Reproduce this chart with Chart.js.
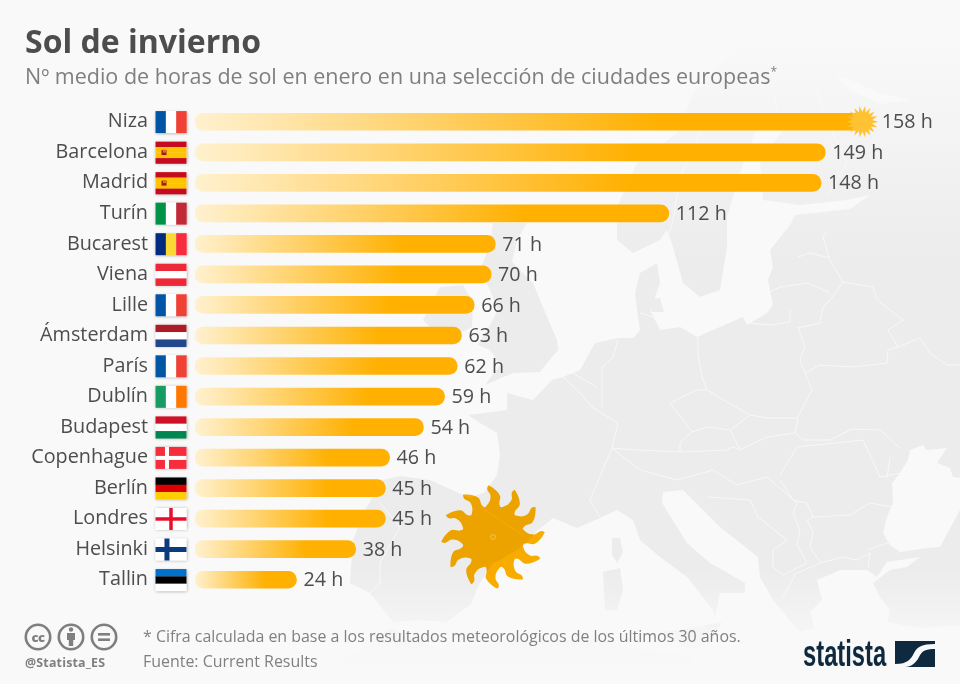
<!DOCTYPE html>
<html>
<head>
<meta charset="utf-8">
<script src="https://cdn.jsdelivr.net/npm/chart.js@4/dist/chart.umd.min.js"></script>
<style>
	html, body { margin:0; padding:0; background:#f9f9f9; }
	#wrap { position:relative; width:960px; height:684px; overflow:hidden; font-family:"Open Sans", sans-serif; }
	#bg, #fg, #soleChart { position:absolute; left:0; top:0; }
	.txt { position:absolute; white-space:nowrap; }
	#title { left:25px; top:19px; font-size:32px; line-height:44px; font-weight:700; color:#4d4d4d; }
	#subtitle { left:25px; top:61px; font-size:21.5px; line-height:30px; color:#7f7f7f; }
	#subtitle sup { font-size:12px; line-height:0; }
	#note { left:143px; top:625px; font-size:15.95px; line-height:22px; color:#808080; }
	#source { left:143px; top:650px; font-size:15.95px; line-height:22px; color:#808080; }
	#handle { left:25px; top:654px; font-size:12.4px; line-height:18px; font-weight:700; color:#7f7f7f; letter-spacing:.2px; }
	#logo { left:803px; top:632px; font-family:"Liberation Sans Narrow", "Liberation Sans", sans-serif; font-size:36px; line-height:44px; font-weight:700; color:#0f2a3f; transform:scaleX(.66); transform-origin:left top; }
</style>
</head>
<body>
<div id="wrap">
	<svg id="bg" width="960" height="684" viewBox="0 0 960 684"></svg>
	<canvas id="soleChart" width="960" height="684"></canvas>
	<svg id="fg" width="960" height="684" viewBox="0 0 960 684"></svg>
	<div class="txt" id="title">Sol de invierno</div>
	<div class="txt" id="subtitle">Nº medio de horas de sol en enero en una selección de ciudades europeas<sup>*</sup></div>
	<div class="txt" id="note">* Cifra calculada en base a los resultados meteorológicos de los últimos 30 años.</div>
	<div class="txt" id="source">Fuente: Current Results</div>
	<div class="txt" id="handle">@Statista_ES</div>
	<div class="txt" id="logo">statista</div>
</div>
<script>
var cities = ['Niza','Barcelona','Madrid','Turín','Bucarest','Viena','Lille','Ámsterdam','París','Dublín','Budapest','Copenhague','Berlín','Londres','Helsinki','Tallin'];
var sunHours = [158,149,148,112,71,70,66,63,62,59,54,46,45,45,38,24];
var cityFlags = ['fr','es','es','it','ro','at','fr','nl','fr','ie','hu','dk','de','en','fi','ee'];

var flagStripes = {
	fr: { dir:'v', colors:['#0055a4','#ffffff','#ef4135'] },
	it: { dir:'v', colors:['#009246','#ffffff','#c12b37'] },
	ro: { dir:'v', colors:['#002b7f','#fcd835','#f72c3c'] },
	ie: { dir:'v', colors:['#169b62','#ffffff','#ff7900'] },
	at: { dir:'h', colors:['#ed2939','#ffffff','#ed2939'] },
	nl: { dir:'h', colors:['#ae1c28','#ffffff','#21468b'] },
	hu: { dir:'h', colors:['#ce1126','#ffffff','#008751'] },
	de: { dir:'h', colors:['#000000','#dd0000','#ffce00'] },
	ee: { dir:'h', colors:['#0072ce','#000000','#ffffff'] },
	es: { dir:'h', colors:['#c60b1e','#ffc400','#ffc400','#c60b1e'] }
};
var flagCrosses = {
	dk: { field:'#f72c3c', cross:'#ffffff', size:4 },
	en: { field:'#ffffff', cross:'#e8112d', size:3.5 },
	fi: { field:'#ffffff', cross:'#0b3a7e', size:5 }
};

/********************************************************
 * background map
 ********************************************************/
var mainland = '383,480 400,476 430,480 470,498 485,492 497,475 500,455 497,433 480,423 468,415 507,410 507,393 533,400 552,380 563,377 580,370 595,343 618,338 633,338 640,330 638,317 635,293 640,273 657,263 660,283 655,297 650,310 660,330 680,327 697,337 720,327 743,317 747,325 767,313 773,305 768,280 773,267 770,250 790,225 795,215 850,209 870,195 847,200 800,205 763,200 760,160 783,130 763,110 740,173 727,217 727,247 720,290 700,297 683,283 673,247 667,230 660,240 633,253 617,240 617,207 637,163 677,133 693,93 740,43 813,28 880,30 960,40 960,625 920,628 887,622 890,610 880,597 873,583 890,570 907,567 920,557 887,562 877,577 867,570 840,570 817,580 822,600 810,612 815,628 800,632 787,617 773,600 760,577 758,557 720,527 693,500 683,490 663,492 662,503 677,527 687,543 710,563 745,583 745,593 720,593 715,617 713,610 687,577 660,557 640,540 633,520 617,510 600,518 577,528 553,518 538,530 525,545 500,560 493,563 480,583 470,605 447,622 420,620 393,622 370,593 350,583 353,540 365,510';
var whiteSea = '833,73 880,93 910,100 880,104 850,90';
var blackSea = '910,450 923,445 927,450 947,448 937,463 950,468 953,477 960,478 960,510 940,547 927,548 900,552 890,545 883,533 887,517 893,503 892,483 900,473 908,460';
var landPieces = [
	'493,223 527,223 517,240 512,262 533,283 543,307 557,340 558,350 547,363 540,372 513,373 485,385 500,365 490,350 478,345 490,325 498,310 490,290 480,270 490,245',
	'423,320 440,287 463,285 473,303 472,327 460,333 435,332',
	'612,538 620,538 623,552 617,563 612,555',
	'603,572 620,568 623,590 617,610 605,610',
	'660,632 690,628 722,622 712,640 690,650',
	'300,684 360,650 390,628 440,650 520,640 600,640 640,650 690,655 700,684',
	'645,300 660,298 664,312 652,312'
];
var borders = [
	'698,337 698,355 702,377 707,390 727,402 750,415 767,418 797,418 812,390 805,373 800,360 805,347 798,327',
	'747,323 770,325 790,322 790,310',
	'798,328 820,323 823,307 830,300 843,282 830,260 823,237 827,230',
	'770,292 780,287 808,283 830,293',
	'798,257 810,253 830,258',
	'805,373 820,365 853,367 887,363 888,350 898,347 920,338 930,353 947,365 960,365',
	'843,282 873,287 877,300 903,320 888,330 898,347',
	'707,390 697,390 670,403 692,432 707,427 730,430 750,415',
	'730,430 740,450 767,437 795,433 798,418',
	'795,433 803,440 830,440 852,429 880,430 900,448',
	'612,448 637,450 680,452 727,450 733,447 740,450',
	'692,432 680,443 680,452',
	'563,377 580,393 593,408 618,423 612,448 590,500 600,517',
	'618,340 613,357 602,367 602,407',
	'573,373 597,387',
	'640,313 653,317',
	'700,133 680,177 673,220 667,240',
	'817,87 823,113 833,133 847,163 827,197',
	'773,93 777,110 783,127',
	'480,507 520,533',
	'380,503 400,527 380,563 380,583 370,593',
	'707,497 750,500 758,517 787,540 773,550 773,567 783,575 807,563 797,545 800,530 793,513 797,503 767,477 737,485 713,470',
	'807,503 813,517 850,515 870,503 892,507',
	'813,517 807,520 813,532 810,547 820,562',
	'793,575 820,563 843,557 857,560 870,553 868,568',
	'867,550 890,542',
	'780,475 797,447 863,440 880,477 900,473',
	'890,457 887,478',
	'780,480 793,500 807,503',
	'795,575 783,597',
	'612,448 640,470 677,480 713,470'
];

function renderMap() {
	var html = '';
	html += '<defs><linearGradient id="fadeTop" gradientUnits="userSpaceOnUse" x1="0" y1="40" x2="0" y2="260">'
		+ '<stop offset="0" stop-color="#f9f9f9" stop-opacity="1"/><stop offset="1" stop-color="#f9f9f9" stop-opacity="0"/></linearGradient>'
		+ '<linearGradient id="fadeBottom" gradientUnits="userSpaceOnUse" x1="0" y1="570" x2="0" y2="684">'
		+ '<stop offset="0" stop-color="#f9f9f9" stop-opacity="0"/><stop offset=".7" stop-color="#f9f9f9" stop-opacity=".9"/><stop offset="1" stop-color="#f9f9f9" stop-opacity="1"/></linearGradient></defs>';
	html += '<rect width="960" height="684" fill="#f9f9f9"/>';
	html += '<polygon points="' + mainland + '" fill="#ececec"/>';
	landPieces.forEach(function(p) {
		html += '<polygon points="' + p + '" fill="#ececec"/>';
	});
	html += '<polygon points="' + blackSea + '" fill="#f9f9f9"/>';
	html += '<polygon points="' + whiteSea + '" fill="#f9f9f9"/>';
	borders.forEach(function(p) {
		html += '<polyline points="' + p + '" fill="none" stroke="#f8f8f8" stroke-width="1"/>';
	});
	html += '<rect width="960" height="260" fill="url(#fadeTop)"/>';
	html += '<rect y="570" width="960" height="114" fill="url(#fadeBottom)"/>';
	html += '<path d="' + bigSunPath(493, 537) + '" fill="#ffb000" style="mix-blend-mode:multiply"/>';
	html += '<circle cx="493" cy="537" r="2.4" fill="none" stroke="#f8c24a" stroke-width="1"/>';
	document.getElementById('bg').innerHTML = html;
}

function polar(cx, cy, r, a) {
	return (cx + r * Math.cos(a)).toFixed(1) + ' ' + (cy + r * Math.sin(a)).toFixed(1);
}

function bigSunPath(cx, cy) {
	var d = '';
	for (var i = 0; i < 12; i++) {
		var a = -Math.PI / 2 + i * Math.PI / 6;
		d += (i == 0 ? 'M' : 'L') + polar(cx, cy, 31, a - 0.24);
		d += 'C' + polar(cx, cy, 35, a - 0.08) + ' ' + polar(cx, cy, 37, a - 0.07) + ' ' + polar(cx, cy, 41, a - 0.06);
		d += 'C' + polar(cx, cy, 45, a - 0.05) + ' ' + polar(cx, cy, 47, a - 0.18) + ' ' + polar(cx, cy, 52, a - 0.09);
		d += 'C' + polar(cx, cy, 49, a + 0.02) + ' ' + polar(cx, cy, 45, a + 0.14) + ' ' + polar(cx, cy, 41, a + 0.18);
		d += 'C' + polar(cx, cy, 37, a + 0.20) + ' ' + polar(cx, cy, 35, a + 0.14) + ' ' + polar(cx, cy, 31, a + 0.24);
	}
	return d + 'Z';
}

function renderFooterIcons() {
	var g = '#7f7f7f';
	var html = '';
	[38, 71, 104].forEach(function(cx) {
		html += '<circle cx="' + cx + '" cy="637" r="12.2" fill="none" stroke="' + g + '" stroke-width="2.6"/>';
	});
	html += '<text x="38" y="641.5" text-anchor="middle" font-family="Open Sans" font-weight="800" font-size="13" letter-spacing="-.5" fill="' + g + '">cc</text>';
	html += '<circle cx="71" cy="629.5" r="2.2" fill="' + g + '"/>';
	html += '<path d="M67 633h8v7h-1.8v6h-4.4v-6h-1.8z" fill="' + g + '"/>';
	html += '<rect x="98" y="633" width="12" height="2.6" fill="' + g + '"/>';
	html += '<rect x="98" y="638.4" width="12" height="2.6" fill="' + g + '"/>';
	// logo statista
	html += '<rect x="895" y="641" width="40" height="26" fill="#0f2a3f"/>';
	html += '<path d="M895 664C908 664 911 659 914 653C917 647 922 644 935 644V649C925 649 922 651 919 657C916 663 911 667 905 667H895Z" fill="#f9f9f9"/>';
	document.getElementById('fg').innerHTML = html;
}

/********************************************************
 * chart plugins
 ********************************************************/
function drawFlag(ctx, code, x, y, w, h) {
	ctx.save();
	ctx.shadowColor = 'rgba(0,0,0,.35)';
	ctx.shadowBlur = 3;
	ctx.shadowOffsetX = 0.5;
	ctx.shadowOffsetY = 0.5;
	ctx.fillStyle = '#ffffff';
	ctx.fillRect(x, y, w, h);
	ctx.restore();

	if (flagStripes[code]) {
		var st = flagStripes[code];
		var n = st.colors.length;
		st.colors.forEach(function(c, i) {
			ctx.fillStyle = c;
			if (st.dir == 'v') {
				ctx.fillRect(x + w * i / n, y, w / n + 0.2, h);
			} else {
				ctx.fillRect(x, y + h * i / n, w, h / n + 0.2);
			}
		});
		if (code == 'es') {
			ctx.fillStyle = '#ad1519';
			ctx.fillRect(x + 6, y + 8.5, 5, 5);
			ctx.fillStyle = '#c8811f';
			ctx.fillRect(x + 7.5, y + 8, 3, 3);
		}
	} else {
		var cr = flagCrosses[code];
		ctx.fillStyle = cr.field;
		ctx.fillRect(x, y, w, h);
		ctx.fillStyle = cr.cross;
		var cx = (code == 'en') ? x + w / 2 : x + w * 0.37;
		ctx.fillRect(cx - cr.size / 2, y, cr.size, h);
		ctx.fillRect(x, y + h / 2 - cr.size / 2, w, cr.size);
	}
}

function drawSmallSun(ctx, x, y) {
	ctx.save();
	ctx.fillStyle = '#ffc233';
	ctx.beginPath();
	var n = 18;
	for (var i = 0; i < n; i++) {
		var a = i * 2 * Math.PI / n;
		var p1 = [x + 10 * Math.cos(a - 0.17), y + 10 * Math.sin(a - 0.17)];
		var p2 = [x + 16 * Math.cos(a), y + 16 * Math.sin(a)];
		var p3 = [x + 10 * Math.cos(a + 0.17), y + 10 * Math.sin(a + 0.17)];
		if (i == 0) {
			ctx.moveTo(p1[0], p1[1]);
		} else {
			ctx.lineTo(p1[0], p1[1]);
		}
		ctx.lineTo(p2[0], p2[1]);
		ctx.lineTo(p3[0], p3[1]);
	}
	ctx.closePath();
	ctx.fill();
	ctx.restore();
}

var barDecorations = {
	id: 'barDecorations',
	afterDatasetsDraw: function(chart) {
		var ctx = chart.ctx;
		var sx = chart.scales.x;
		var sy = chart.scales.y;

		cities.forEach(function(city, i) {
			var y = sy.getPixelForValue(i);
			drawFlag(ctx, cityFlags[i], 155.5, y - 10.7, 31, 22);
		});

		// biggest value gets the small sun at the end of its bar
		drawSmallSun(ctx, sx.getPixelForValue(sunHours[0]) - 1, sy.getPixelForValue(0));

		ctx.save();
		ctx.font = '19.7px "Open Sans"';
		ctx.fillStyle = '#4d4d4d';
		ctx.textAlign = 'left';
		ctx.textBaseline = 'middle';
		sunHours.forEach(function(v, i) {
			var x = sx.getPixelForValue(v) + (i == 0 ? 18.5 : 7);
			ctx.fillText(v + ' h', x, sy.getPixelForValue(i) + 1);
		});
		ctx.restore();
	}
};

function barGradient(context) {
	var chart = context.chart;
	var fallback = '#ffb000';
	if (!chart.scales.x || context.dataIndex === undefined) {
		return fallback;
	}
	var x0 = chart.scales.x.getPixelForValue(0);
	var x1 = chart.scales.x.getPixelForValue(sunHours[context.dataIndex]);
	if (!isFinite(x0) || !isFinite(x1)) {
		return fallback;
	}
	var g = chart.ctx.createLinearGradient(x0, 0, x1, 0);
	g.addColorStop(0, '#fff1cf');
	g.addColorStop(0.7, '#ffb000');
	g.addColorStop(1, '#ffb000');
	return g;
}

renderMap();
renderFooterIcons();

var _soleChart = new Chart(document.getElementById('soleChart'), {
	type: 'bar',
	data: {
		labels: cities,
		datasets: [{
			data: sunHours,
			backgroundColor: barGradient,
			barThickness: 17,
			borderRadius: 9,
			borderSkipped: false
		}]
	},
	options: {
		indexAxis: 'y',
		responsive: false,
		animation: false,
		layout: { padding: { top: 106.5, bottom: 89, left: 0, right: 3.6 } },
		plugins: {
			legend: { display: false },
			title: { display: false },
			tooltip: { enabled: false }
		},
		scales: {
			x: { display: false, min: 0, max: 180 },
			y: {
				afterFit: function(scale) { scale.width = 195; },
				grid: { display: false, drawTicks: false },
				border: { display: false },
				ticks: {
					padding: 47,
					autoSkip: false,
					color: '#4d4d4d',
					font: { family: '"Open Sans"', size: 19.8 }
				}
			}
		}
	},
	plugins: [barDecorations]
});
</script>
</body>
</html>
